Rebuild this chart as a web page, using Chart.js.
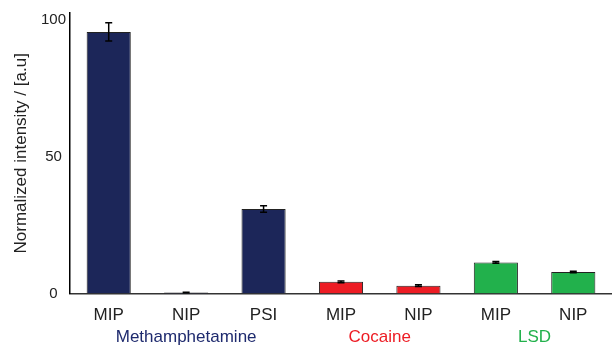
<!DOCTYPE html>
<html>
<head>
<meta charset="utf-8">
<script src="https://cdn.jsdelivr.net/npm/chart.js@4/dist/chart.umd.min.js"></script>
<style>
html,body{margin:0;padding:0;background:#fff;}
#wrap{width:612px;height:348px;position:relative;}
</style>
</head>
<body>
<div id="wrap"><canvas id="c" width="612" height="348"></canvas></div>
<script>
const categories = ['MIP', 'NIP', 'PSI', 'MIP', 'NIP', 'MIP', 'NIP'];
const values = [95.6, 0.4, 30.9, 4.3, 2.9, 11.4, 7.9];
const errors = [3.3, 0.1, 1.2, 0.3, 0.3, 0.3, 0.3];
const groupNames = ['Methamphetamine', 'Cocaine', 'LSD'];
const groupStart = [0, 3, 5];
const groupEnd = [2, 4, 6];
const groupColors = ['#1e2a6e', '#ed1c24', '#22b14c'];
const barColors = ['#1c2659', '#1c2659', '#1c2659', '#ed1c24', '#ed1c24', '#22b14c', '#22b14c'];
const yTicks = [0, 50, 100];

const FONT = '"Liberation Sans", Arial, sans-serif';

const errorBars = {
  id: 'errorBars',
  afterDatasetsDraw(chart) {
    const ctx = chart.ctx;
    const meta = chart.getDatasetMeta(0);
    const ys = chart.scales.y;
    ctx.save();
    ctx.strokeStyle = '#000';
    ctx.lineWidth = 1.5;
    meta.data.forEach((el, i) => {
      const v = values[i], e = errors[i];
      const t = ys.getPixelForValue(v + e);
      const b = ys.getPixelForValue(v - e);
      ctx.beginPath();
      ctx.moveTo(el.x, t); ctx.lineTo(el.x, b);
      ctx.moveTo(el.x - 3.5, t); ctx.lineTo(el.x + 3.5, t);
      ctx.moveTo(el.x - 3.5, b); ctx.lineTo(el.x + 3.5, b);
      ctx.stroke();
    });
    ctx.restore();
  }
};

const groupLabels = {
  id: 'groupLabels',
  afterDraw(chart) {
    const ctx = chart.ctx;
    const xs = chart.scales.x;
    ctx.save();
    ctx.font = '17px ' + FONT;
    ctx.textAlign = 'center';
    ctx.textBaseline = 'middle';
    groupNames.forEach((g, i) => {
      const x = (xs.getPixelForValue(groupStart[i]) + xs.getPixelForValue(groupEnd[i])) / 2;
      ctx.fillStyle = groupColors[i];
      ctx.fillText(g, x, chart.chartArea.bottom + 44);
    });
    ctx.restore();
  }
};

new Chart(document.getElementById('c'), {
  type: 'bar',
  data: {
    labels: categories,
    datasets: [{
      data: values,
      backgroundColor: barColors,
      borderColor: '#222',
      borderWidth: 1,
      categoryPercentage: 1,
      barPercentage: 0.57
    }]
  },
  options: {
    responsive: false,
    animation: false,
    devicePixelRatio: 1,
    layout: { padding: { top: 13, right: 0, bottom: 10, left: 0 } },
    plugins: { legend: { display: false }, tooltip: { enabled: false } },
    scales: {
      x: {
        grid: { display: false, drawTicks: false },
        border: { display: true, color: '#333', width: 1.5 },
        ticks: { color: '#222', padding: 12, font: { size: 17, family: FONT } }
      },
      y: {
        min: 0,
        max: 102.5,
        afterBuildTicks(s) { s.ticks = yTicks.map(v => ({ value: v })); },
        afterFit(s) { s.width = 70; },
        grid: { display: false, drawTicks: false },
        border: { display: true, color: '#000', width: 1.5 },
        ticks: { color: '#222', padding: 4, crossAlign: 'center', font: { size: 15, family: FONT } },
        title: {
          display: true,
          text: 'Normalized intensity / [a.u]',
          color: '#222',
          padding: { top: 11, bottom: 0 },
          font: { size: 17, family: FONT }
        }
      }
    }
  },
  plugins: [errorBars, groupLabels]
});
</script>
</body>
</html>
